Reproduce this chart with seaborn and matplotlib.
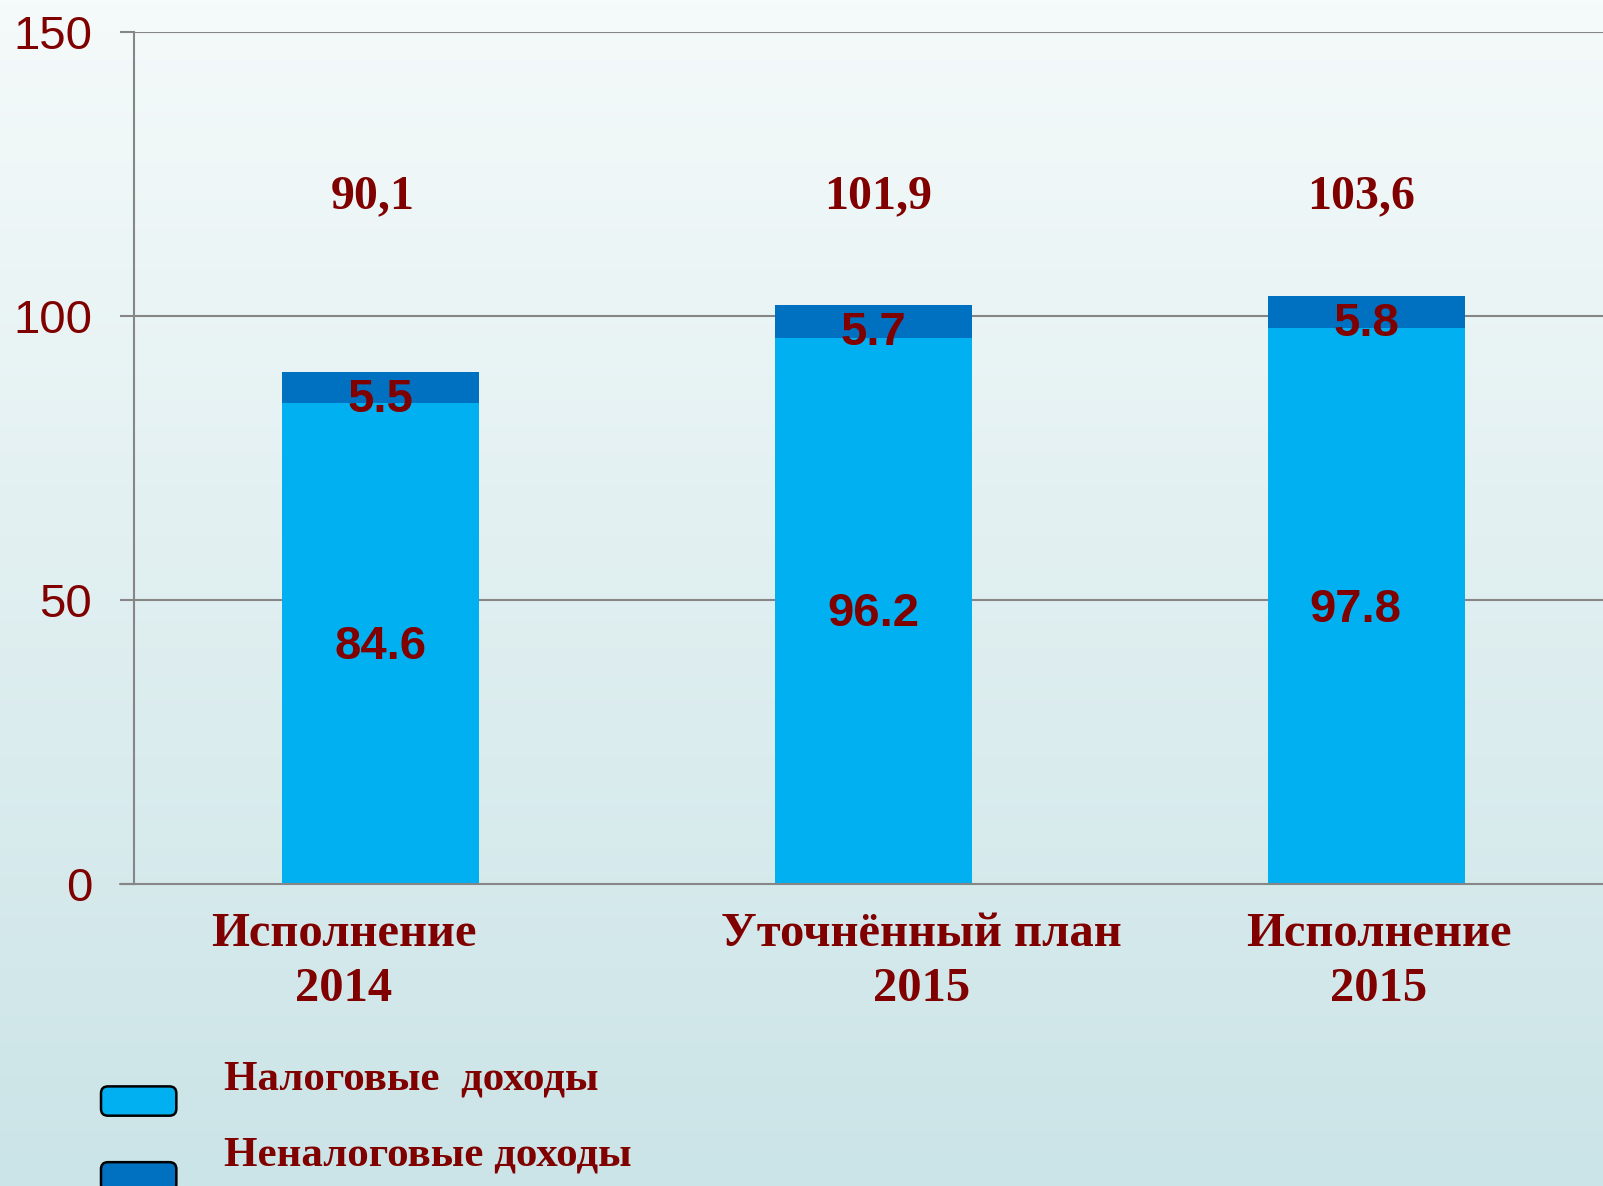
import numpy as np
import pandas as pd
import matplotlib
matplotlib.use("Agg")
import matplotlib.pyplot as plt
import matplotlib.transforms as mtransforms
from matplotlib.patches import FancyBboxPatch, Patch
from matplotlib.legend_handler import HandlerPatch
import seaborn as sns

# ---- data ----
categories = ["Исполнение\n2014", "Уточнённый план\n2015", "Исполнение\n2015"]
tax_income = [84.6, 96.2, 97.8]
nontax_income = [5.5, 5.7, 5.8]
totals_text = ["90,1", "101,9", "103,6"]
series_names = ["Налоговые  доходы", "Неналоговые доходы"]
y_ticks = [0, 50, 100, 150]

# ---- style ----
sns.set_theme(style="white")
plt.rcParams["font.family"] = ["Liberation Sans", "DejaVu Sans"]

MAROON = "#800000"
LIGHT = "#00B0F0"
DARK = "#0070C0"
GRID = "#868686"
SERIF = ["Liberation Serif", "DejaVu Serif"]

W, H = 1603, 1186
fig = plt.figure(figsize=(W / 100, H / 100), dpi=100)

# background gradient
bg = fig.add_axes([0, 0, 1, 1], zorder=-10)
grad = np.linspace(0, 1, 256).reshape(-1, 1)
top = np.array([245, 250, 250]) / 255
bot = np.array([203, 228, 231]) / 255
img = top[None, None, :] * (1 - grad[:, :, None]) + bot[None, None, :] * grad[:, :, None]
bg.imshow(img, aspect="auto", extent=[0, 1, 0, 1])
bg.set_axis_off()

ax = fig.add_axes([134 / W, 1 - 884 / H, 1 - 134 / W, (884 - 32) / H])
ax.set_facecolor("none")

df = pd.DataFrame({"cat": categories, "tax": tax_income, "nontax": nontax_income})
df["total"] = df["tax"] + df["nontax"]

sns.barplot(data=df, x="cat", y="total", color=DARK, width=0.4, ax=ax,
            saturation=1, edgecolor="none", linewidth=0, zorder=3)
sns.barplot(data=df, x="cat", y="tax", color=LIGHT, width=0.4, ax=ax,
            saturation=1, edgecolor="none", linewidth=0, zorder=4)

ax.set_xlim(-0.5, 2.48)
ax.set_ylim(0, 150)
ax.set_yticks(y_ticks)
ax.set_xlabel("")
ax.set_ylabel("")

# grid
for v in y_ticks[1:]:
    ax.axhline(v, color=GRID, lw=1.5, zorder=1)

for s in ["top", "right"]:
    ax.spines[s].set_visible(False)
for s in ["left", "bottom"]:
    ax.spines[s].set_color(GRID)
    ax.spines[s].set_linewidth(1.5)
    ax.spines[s].set_zorder(5)

ax.tick_params(axis="y", which="major", length=10, width=1.5, color=GRID,
               labelsize=34, labelcolor=MAROON, pad=20, left=True)
ax.tick_params(axis="x", which="major", length=0, pad=20)

# category labels
offsets_px = [-37, 48, 12]
for lab, off in zip(ax.get_xticklabels(), offsets_px):
    lab.set_fontfamily(SERIF)
    lab.set_fontweight("bold")
    lab.set_fontsize(35)
    lab.set_color(MAROON)
    lab.set_linespacing(1.33)
    lab.set_transform(lab.get_transform() +
                      mtransforms.ScaledTranslation(off / 100, 0, fig.dpi_scale_trans))

# the bottom spine extends left like a tick
ax.plot([-0.5 - 14 / 493.5, -0.5], [0, 0], color=GRID, lw=1.5, clip_on=False, zorder=5)

# segment labels
inner_dx = [0, 0, -0.022]
total_dx = [-0.015, 0.01, -0.01]
for i, (t, n) in enumerate(zip(tax_income, nontax_income)):
    ax.text(i + inner_dx[i], t / 2 - 0.6, f"{t}", ha="center", va="center", fontsize=34,
            fontweight="bold", color=MAROON, zorder=6)
    ax.text(i, t + n / 2 - 2.1, f"{n}", ha="center", va="center", fontsize=34,
            fontweight="bold", color=MAROON, zorder=6)
    ax.text(i + total_dx[i], 121.0, totals_text[i], ha="center", va="center", fontsize=34.5,
            fontweight="bold", color=MAROON, zorder=6, family=SERIF)


# legend with rounded handles shifted down
def make_rounded(legend, orig_handle, xdescent, ydescent, width, height, fontsize):
    return FancyBboxPatch((-xdescent, -ydescent - 19), width, height,
                          boxstyle="round,pad=0,rounding_size=5",
                          facecolor=orig_handle.get_facecolor(),
                          edgecolor="black", linewidth=1.8)


handles = [Patch(facecolor=LIGHT, edgecolor="black", linewidth=1.8),
           Patch(facecolor=DARK, edgecolor="black", linewidth=1.8)]
leg = fig.legend(handles, series_names, loc="upper left",
                 bbox_to_anchor=(101 / W, 1 - 1060 / H), frameon=False,
                 handler_map={Patch: HandlerPatch(patch_func=make_rounded)},
                 prop={"family": SERIF, "weight": "bold", "size": 31},
                 handlelength=1.75, handleheight=0.67, handletextpad=1.1,
                 labelspacing=0.86, borderpad=0, borderaxespad=0)
for t in leg.get_texts():
    t.set_color(MAROON)
for p in leg.get_patches():
    p.set_edgecolor("black")

fig.savefig("out.png", dpi=100)
